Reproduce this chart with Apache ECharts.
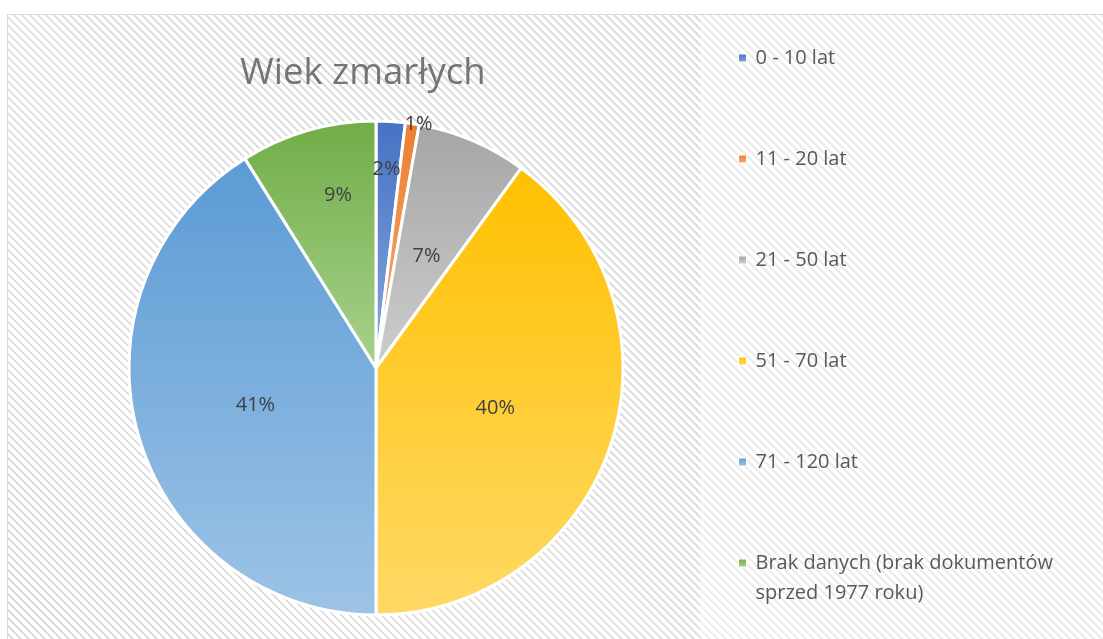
<!DOCTYPE html>
<html>
<head>
<meta charset="utf-8">
<script src="https://cdn.jsdelivr.net/npm/echarts@6/dist/echarts.min.js"></script>
<style>
  html, body { margin: 0; padding: 0; background: #fff; }
  #wrap { position: relative; width: 1103px; height: 639px; overflow: hidden; background: #fff; }
  #frame {
    position: absolute; left: 7px; top: 14px; width: 1110px; height: 640px;
    border-left: 1px solid #d9d9d9; border-top: 1px solid #d9d9d9;
    background: repeating-linear-gradient(45deg, #ffffff 0px, #ffffff 2.6px, #dcdcdc 2.8px, #dcdcdc 4.6px, #ffffff 4.8px, #ffffff 5.66px);
  }
  #legendArea {
    position: absolute; left: 700px; top: 15px; width: 420px; height: 640px;
    background: rgba(255,255,255,0.45);
  }
  #chart { position: absolute; left: 0; top: 0; width: 1103px; height: 639px; }
</style>
</head>
<body>
<div id="wrap">
  <div id="frame"></div>
  <div id="legendArea"></div>
  <div id="chart"></div>
</div>
<script>
// ---- data ----
const titleText = 'Wiek zmarłych';
const categories = ['0 - 10 lat', '11 - 20 lat', '21 - 50 lat', '51 - 70 lat', '71 - 120 lat', 'Brak danych (brak dokumentów sprzed 1977 roku)'];
const shares = [1.9, 0.9, 7.2, 40.0, 41.1, 8.9];

// ---- styles ----
const topColors = ['#4472c4', '#ed7d31', '#a5a5a5', '#ffc000', '#5b9bd5', '#70ad47'];
const bottomColors = ['#8aa7dd', '#f6ad7a', '#cdcdcd', '#ffd966', '#9dc3e6', '#a9d18e'];
const labelShift = [[3, -72], [24, -119], [1, 5], [-1, 1], [1, 2], [-3, -51]];

const FONT = '"Open Sans", "Noto Sans", sans-serif';

const pieData = categories.map((name, i) => ({
  name: name,
  value: shares[i],
  itemStyle: {
    color: {
      type: 'linear', x: 0, y: 0, x2: 0, y2: 1,
      colorStops: [{ offset: 0, color: topColors[i] }, { offset: 1, color: bottomColors[i] }]
    }
  }
}));

const chart = echarts.init(document.getElementById('chart'), null, { renderer: 'canvas' });
chart.setOption({
  backgroundColor: 'transparent',
  animation: false,
  title: {
    text: titleText,
    left: 240,
    top: 54,
    padding: 0,
    textStyle: { fontFamily: FONT, fontSize: 36.5, fontWeight: 'normal', color: '#757575', lineHeight: 40 }
  },
  legend: [
    {
      data: categories.slice(0, 5),
      orient: 'vertical',
      left: 738,
      top: 43,
      padding: 0,
      itemGap: 71,
      itemWidth: 8,
      itemHeight: 8,
      icon: 'rect',
      itemStyle: { borderWidth: 1, borderColor: '#ffffff' },
      textStyle: { fontFamily: FONT, fontSize: 20, color: '#595959', lineHeight: 30, padding: [0, 0, 0, 4] }
    },
    {
      data: categories.slice(5),
      orient: 'vertical',
      left: 738,
      top: 518,
      padding: 0,
      itemWidth: 8,
      itemHeight: 8,
      icon: 'rect',
      itemStyle: { borderWidth: 1, borderColor: '#ffffff' },
      formatter: function (name) { return '\u00a0\n' + name.replace(' sprzed', '\nsprzed'); },
      textStyle: { fontFamily: FONT, fontSize: 20, color: '#595959', lineHeight: 30, padding: [0, 0, 0, 4] }
    }
  ],
  series: [{
    type: 'pie',
    center: [376, 368],
    radius: 247,
    startAngle: 90,
    clockwise: true,
    percentPrecision: 0,
    avoidLabelOverlap: false,
    itemStyle: { borderColor: '#ffffff', borderWidth: 3 },
    label: {
      show: true,
      position: 'inside',
      formatter: '{d}%',
      fontFamily: FONT,
      fontSize: 20,
      color: '#404040'
    },
    labelLine: { show: false },
    emphasis: { disabled: true },
    labelLayout: function (p) {
      const s = labelShift[p.dataIndex];
      return { dx: s[0], dy: s[1] };
    },
    data: pieData
  }]
});
</script>
</body>
</html>
